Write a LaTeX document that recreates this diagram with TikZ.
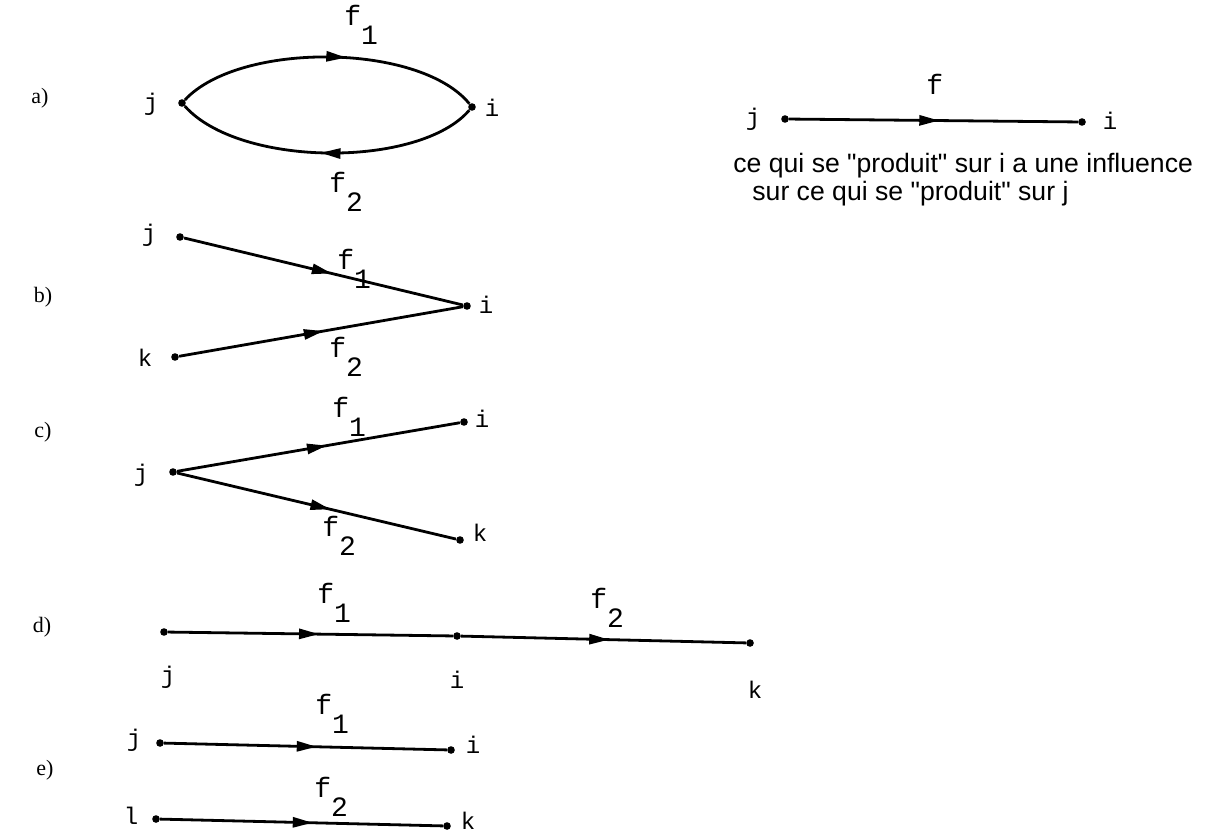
\documentclass[tikz,border=0pt]{standalone}
\usepackage{fontspec}
\setmainfont{Liberation Serif}
\newfontfamily\monof{Liberation Mono}
\newfontfamily\sansf{Liberation Sans}
\usetikzlibrary{arrows.meta,decorations.markings}
\tikzset{
  dot/.style={circle,fill=black,inner sep=0pt,minimum size=3.8pt},
  edge/.style={line width=1.4pt},
  marr/.style={postaction={decorate},decoration={markings,mark=at position #1 with {\arrow{Triangle[length=10pt,width=5pt]}}}},
  lab/.style={font=\monof\fontsize{12}{14}\selectfont,inner sep=0pt},
  flab/.style={font=\monof\fontsize{14}{16}\selectfont,inner sep=0pt,anchor=base west},
  side/.style={font=\fontsize{11}{13}\selectfont,inner sep=0pt},
  txt/.style={font=\sansf\fontsize{13.3}{15}\selectfont,inner sep=0pt,anchor=base west}
}
\newcommand{\sbx}[1]{\raisebox{-9.5pt}{#1}}
\begin{document}
\begin{tikzpicture}[x=0.5pt,y=-0.5pt]
\useasboundingbox (0,0) rectangle (1213,834);
% a)
\node[side] (la) at (40,98) {a)};
\node[dot] (aj) at (182,103) {};
\node[dot] (ai) at (472,107) {};
\node[lab] (ajl) at (151,104) {j};
\node[lab] (ail) at (492,108) {i};
\draw[edge,marr=0.56] (aj) .. controls (240,41) and (420,43) .. (ai);
\draw[edge,marr=0.52] (ai) .. controls (420,168) and (240,168) .. (aj);
\node[flab] (af1) at (344,26) {f\sbx{1}};
\node[flab] (af2) at (329,192) {f\sbx{2}};
% right
\node[dot] (rj) at (785,119) {};
\node[dot] (ri) at (1082,122) {};
\node[lab] (rjl) at (753,119) {j};
\node[lab] (ril) at (1110,121) {i};
\draw[edge,marr=0.52] (rj) -- (ri);
\node[flab] (rf) at (926,95) {f};
\node[txt] (t1) at (733,173) {ce qui se "produit" sur i a une influence};
\node[txt] (t2) at (752,200) {sur ce qui se "produit" sur j};
% b)
\node[side] (lb) at (43,297) {b)};
\node[dot] (bj) at (180,237) {};
\node[dot] (bi) at (467,306) {};
\node[dot] (bk) at (175,357) {};
\node[lab] (bjl) at (149,235) {j};
\node[lab] (bil) at (486,305) {i};
\node[lab] (bkl) at (145,358) {k};
\draw[edge,marr=0.53] (bj) -- (bi);
\draw[edge,marr=0.51] (bk) -- (bi);
\node[flab] (bf1) at (337,269) {f\sbx{1}};
\node[flab] (bf2) at (329,357) {f\sbx{2}};
% c)
\node[side] (lc) at (43,432) {c)};
\node[dot] (cj) at (173,472) {};
\node[dot] (ci) at (464,422) {};
\node[dot] (ck) at (460,540) {};
\node[lab] (cjl) at (141,475) {j};
\node[lab] (cil) at (482,419) {i};
\node[lab] (ckl) at (480,533) {k};
\draw[edge,marr=0.53] (cj) -- (ci);
\draw[edge,marr=0.55] (cj) -- (ck);
\node[flab] (cf1) at (332,417) {f\sbx{1}};
\node[flab] (cf2) at (322,536) {f\sbx{2}};
% d)
\node[side] (ld) at (42,627) {d)};
\node[dot] (dj) at (164,632) {};
\node[dot] (di) at (457,636) {};
\node[dot] (dk) at (750,643) {};
\node[lab] (djl) at (168,677) {j};
\node[lab] (dil) at (457,680) {i};
\node[lab] (dkl) at (755,690) {k};
\draw[edge,marr=0.53] (dj) -- (di);
\draw[edge,marr=0.52] (di) -- (dk);
\node[flab] (df1) at (317,603) {f\sbx{1}};
\node[flab] (df2) at (590,608) {f\sbx{2}};
% e)
\node[side] (le) at (45,770) {e)};
\node[dot] (ej) at (160,743) {};
\node[dot] (ei) at (451,750) {};
\node[lab] (ejl) at (134,740) {j};
\node[lab] (eil) at (473,745) {i};
\draw[edge,marr=0.54] (ej) -- (ei);
\node[flab] (ef1) at (315,714) {f\sbx{1}};
\node[dot] (el) at (156,819) {};
\node[dot] (ek) at (447,826) {};
\node[lab] (ell) at (131,816) {l};
\node[lab] (ekl) at (468,821) {k};
\draw[edge,marr=0.54] (el) -- (ek);
\node[flab] (ef2) at (314,797) {f\sbx{2}};
\end{tikzpicture}
\end{document}
